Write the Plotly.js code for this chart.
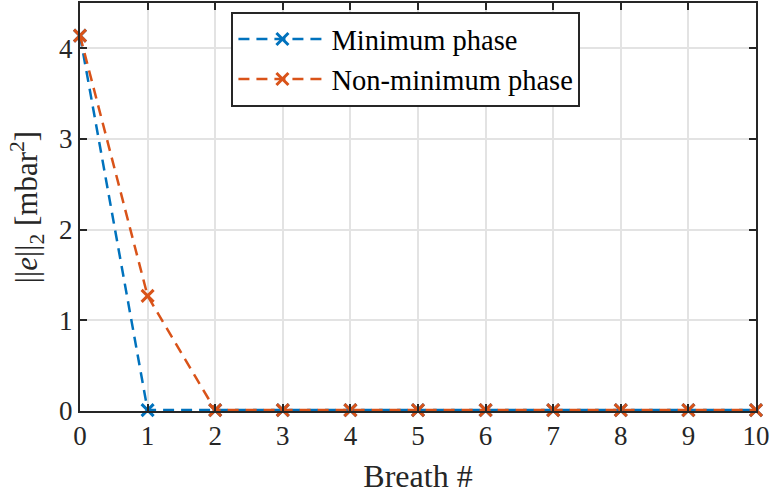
<!DOCTYPE html>
<html><head><meta charset="utf-8">
<script src="https://cdn.plot.ly/plotly-3.0.1.min.js"></script>
<style>body{margin:0;padding:0;background:#fff}#c{width:770px;height:495px}</style>
</head><body><div id="c"></div>
<script>
const breaths = [0,1,2,3,4,5,6,7,8,9,10];
const minPhase = [4.14,0.01,0.01,0.01,0.01,0.01,0.01,0.01,0.01,0.01,0.01];
const nonMinPhase = [4.14,1.27,0.01,0.01,0.01,0.01,0.01,0.01,0.01,0.01,0.01];
const seriesNames = ['Minimum phase','Non-minimum phase'];
const xTicks = [0,1,2,3,4,5,6,7,8,9,10];
const yTicks = [0,1,2,3,4];

const fam = 'Liberation Serif';
const mk = (y, name, color) => ({
  x: breaths, y: y, name: name, type:'scatter', mode:'lines+markers',
  line:{color:color, width:2.5, dash:'11px,7px'},
  marker:{symbol:'x-thin', size:12, line:{color:color, width:3}, color:color},
  cliponaxis:false
});
const data = [mk(minPhase, seriesNames[0], '#0072BD'), mk(nonMinPhase, seriesNames[1], '#D95319')];
const axisCommon = () => ({
  showline:true, linecolor:'#262626', linewidth:2, mirror:'ticks',
  ticks:'inside', ticklen:7, tickwidth:2, tickcolor:'#262626',
  showgrid:true, gridcolor:'#e3e3e3', gridwidth:2, zeroline:false,
  tickfont:{family:fam, size:27, color:'#262626'}
});
const layout = {
  width:770, height:495,
  margin:{l:80, r:14, t:3, b:84},
  paper_bgcolor:'#fff', plot_bgcolor:'#fff',
  font:{family:fam, size:27, color:'#262626'},
  showlegend:true,
  legend:{x:0.224, y:0.978, xanchor:'left', yanchor:'top',
    bgcolor:'#fff', bordercolor:'#262626', borderwidth:2,
    font:{family:fam, size:28.5, color:'#000'}, tracegroupgap:0, itemwidth:88},
  xaxis: Object.assign(axisCommon(), {range:[0,10], tickvals:xTicks, ticktext:xTicks.map(String),
    title:{text:'Breath #', font:{family:fam, size:32, color:'#262626'}, standoff:14}}),
  yaxis: Object.assign(axisCommon(), {range:[0,4.5], tickvals:yTicks, ticktext:yTicks.map(String),
    title:{text:'||<i>e</i>||<sub>2</sub> [mbar<sup>2</sup>]', font:{family:fam, size:31, color:'#262626'}, standoff:12}})
};
Plotly.newPlot('c', data, layout, {displayModeBar:false, staticPlot:true});
</script></body></html>
